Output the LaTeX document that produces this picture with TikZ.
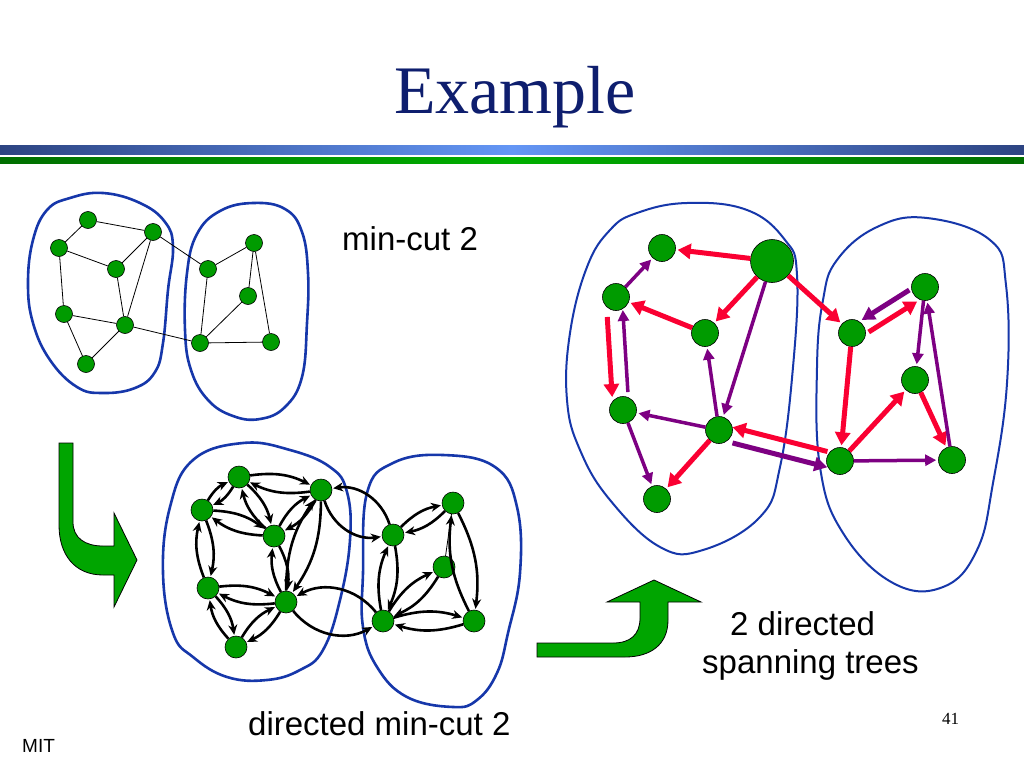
\documentclass[tikz,border=0pt]{standalone}
\usepackage{fontspec}
\setmainfont{Liberation Serif}
\newfontfamily\arial{Liberation Sans}
\usetikzlibrary{arrows.meta,calc}
\definecolor{nodegreen}{RGB}{0,155,0}
\definecolor{arrowgreen}{RGB}{0,165,0}
\definecolor{blobblue}{RGB}{22,55,170}
\definecolor{titleblue}{RGB}{14,30,110}
\definecolor{bardark}{RGB}{45,68,130}
\definecolor{barlight}{RGB}{100,150,245}
\definecolor{gbardark}{RGB}{0,110,0}
\definecolor{gbarlight}{RGB}{0,175,0}
\definecolor{tred}{RGB}{250,0,50}
\definecolor{tpurple}{RGB}{125,0,130}

\begin{document}
\begin{tikzpicture}[x=1pt, y=-1pt,
  vert/.style={circle, draw=black, fill=nodegreen, line width=0.6pt, inner sep=0pt, minimum size=17pt},
  dvert/.style={vert, minimum size=22pt},
  tvert/.style={vert, minimum size=27pt},
  blob/.style={draw=blobblue, line width=2.6pt},
  thinblob/.style={draw=blobblue, line width=2pt},
  edge/.style={draw=black, line width=0.8pt},
  darc/.style={draw=black, line width=2.6pt, -{Stealth[length=10pt,width=9pt]}, shorten >=1pt},
  redarr/.style={draw=tred, line width=5pt, -{Triangle[length=13pt,width=15pt]}, shorten >=2pt},
  purparr/.style={draw=tpurple, line width=3.5pt, -{Triangle[length=11pt,width=11pt]}, shorten >=2pt},
  bigarrow/.style={fill=arrowgreen, draw=black, line width=0.8pt},
  lbl/.style={font=\arial\fontsize{33}{38}\selectfont, inner sep=0pt}
]
\useasboundingbox (0,0) rectangle (1024,768);
\fill[white] (0,0) rectangle (1024,768);

% header
\node[font=\fontsize{68}{80}\selectfont, text=titleblue, inner sep=0pt, anchor=base] (title) at (515,113) {Example};
\shade[left color=bardark, right color=bardark, middle color=barlight] (0,145) rectangle (1024,154);
\shade[left color=gbardark, right color=gbardark, middle color=gbarlight] (0,157) rectangle (1024,163);

% undirected graph
\draw[blob] plot[smooth cycle, tension=0.7] coordinates {(70,198) (103,193) (140,203) (165,222) (173,247) (168,290) (163,343) (155,372) (135,388) (103,393) (77,387) (50,360) (33,323) (28,283) (33,240) (47,210)};
\draw[blob] plot[smooth cycle, tension=0.7] coordinates {(220,211) (253,203) (285,209) (302,232) (308,273) (307,323) (302,377) (285,407) (260,419) (233,416) (208,400) (191,370) (185,330) (187,273) (197,234)};

\node[vert] (a1) at (88,220) {};
\node[vert] (a2) at (59,248) {};
\node[vert] (a3) at (153,232) {};
\node[vert] (a4) at (116,269) {};
\node[vert] (a5) at (64,314) {};
\node[vert] (a6) at (125,325) {};
\node[vert] (a7) at (86,364) {};
\node[vert] (b1) at (208,269) {};
\node[vert] (b2) at (254,243) {};
\node[vert] (b3) at (248,296) {};
\node[vert] (b4) at (200,343) {};
\node[vert] (b5) at (271,342) {};

\foreach \u/\v in {a1/a3, a1/a2, a2/a4, a2/a5, a4/a3, a3/a6, a4/a6, a5/a6, a5/a7, a7/a6,
                   a3/b1, a6/b4, b1/b2, b1/b4, b2/b3, b2/b5, b3/b4, b4/b5}
  \draw[edge] (\u) -- (\v);

\node[lbl, anchor=base west] (cutlbl) at (342,250) {min-cut 2};

% first green arrow
\draw[bigarrow] (59,443) -- (73,443) -- (73,522) .. controls (73,538) and (85,546) .. (103,546)
  -- (114,546) -- (114,513) -- (137,560) -- (114,607) -- (114,575) -- (103,575)
  .. controls (75,575) and (59,555) .. (59,525) -- cycle;

% directed graph
\draw[blob] plot[smooth cycle, tension=0.7] coordinates {(243,443) (290,450) (330,467) (347,492) (350,540) (340,600) (323,650) (300,670) (267,680) (227,677) (193,657) (173,633) (163,573) (170,507) (193,460)};
\draw[blob] plot[smooth cycle, tension=0.7] coordinates {(393,463) (443,455) (495,467) (517,507) (520,573) (508,633) (497,673) (477,700) (453,707) (407,697) (377,667) (363,627) (363,573) (367,493)};

\node[dvert] (c1) at (239,477) {};
\node[dvert] (c2) at (202,510) {};
\node[dvert] (c3) at (321,490) {};
\node[dvert] (c4) at (274,536) {};
\node[dvert] (c5) at (208,588) {};
\node[dvert] (c6) at (286,602) {};
\node[dvert] (c7) at (236,647) {};
\node[dvert] (d1) at (393,535) {};
\node[dvert] (d2) at (453,503) {};
\node[dvert] (d3) at (444,567) {};
\node[dvert] (d4) at (383,621) {};
\node[dvert] (d5) at (474,621) {};

\foreach \u/\v in {c1/c2, c1/c3, c1/c4, c2/c4, c2/c5, c3/c4, c3/c6, c4/c6, c5/c6, c5/c7, c7/c6,
                   d1/d2, d1/d4, d2/d5, d3/d4, d4/d5} {
  \draw[darc] (\u) to[bend left=17] (\v);
  \draw[darc] (\v) to[bend left=17] (\u);
}
\draw[darc] (c3) to[bend right=40] (d1);
\draw[darc] (d1) to[bend right=40] (c3);
\draw[darc] (c6) to[bend right=40] (d4);
\draw[darc] (d4) to[bend right=40] (c6);
\draw[edge] (d2) -- (d3);

\node[lbl, anchor=base west] (dcutlbl) at (248,735) {directed min-cut 2};

% second green arrow
\draw[bigarrow] (537,643) -- (613,643) .. controls (630,643) and (640,635) .. (640,618)
  -- (640,602) -- (607,602) -- (654,580) -- (701,602) -- (668,602) -- (668,620)
  .. controls (668,645) and (650,657) .. (625,657) -- (537,657) -- cycle;

% spanning trees
\draw[thinblob] plot[smooth cycle, tension=0.7] coordinates {(637,213) (687,203) (747,210) (785,240) (797,275) (793,367) (780,467) (760,517) (703,550) (660,547) (610,500) (580,450) (567,400) (570,333) (587,267) (610,230)};
\draw[thinblob] plot[smooth cycle, tension=0.7] coordinates {(837,260) (877,227) (927,218) (990,240) (1006,285) (1007,383) (993,483) (977,550) (943,587) (893,583) (843,533) (820,467) (817,367) (823,300)};

\node[tvert] (e1) at (662,248) {};
\node[vert, minimum size=43pt] (e2) at (772,261) {};
\node[tvert] (e3) at (616,297) {};
\node[tvert] (e4) at (705,333) {};
\node[tvert] (e5) at (623,410) {};
\node[tvert] (e6) at (719,430) {};
\node[tvert] (e7) at (657,499) {};
\node[tvert] (f1) at (852,333) {};
\node[tvert] (f2) at (925,287) {};
\node[tvert] (f3) at (915,380) {};
\node[tvert] (f4) at (840,461) {};
\node[tvert] (f5) at (952,460) {};

\foreach \u/\v in {e2/e1, e2/e4, e4/e3, e2/f1, e6/e7, f1/f4, f4/f3, f3/f5}
  \draw[redarr] (\u) -- (\v);
\foreach \u/\v in {e3/e1, e2/e6, e6/e4, e6/e5, e5/e7, f2/f3, f4/f5, f5/f2}
  \draw[purparr] (\u) -- (\v);

\draw[redarr, shorten <=20pt, shorten >=13pt] ([xshift=-10pt]e3.center) -- ([xshift=-10pt]e5.center);
\draw[purparr, shorten <=18pt, shorten >=13pt] ([xshift=6pt]e5.center) -- ([xshift=6pt]e3.center);
\draw[redarr, shorten <=15pt, shorten >=14pt] ([shift={(4,7)}]f1.center) -- ([shift={(4,7)}]f2.center);
\draw[purparr, line width=5pt, -{Triangle[length=13pt,width=14pt]}, shorten <=15pt, shorten >=15pt] ([shift={(-3,-5)}]f2.center) -- ([shift={(-3,-5)}]f1.center);
\draw[redarr, shorten <=14pt, shorten >=13pt] ([shift={(1,-6)}]f4.center) -- ([shift={(1,-6)}]e6.center);
\draw[purparr, line width=5pt, -{Triangle[length=13pt,width=14pt]}, shorten <=16pt, shorten >=11pt] ([shift={(-2,9)}]e6.center) -- ([shift={(-2,9)}]f4.center);

\node[lbl, anchor=base west] (treelbl1) at (730,635) {2 directed};
\node[lbl, anchor=base west] (treelbl2) at (702,673) {spanning trees};

% footer
\node[font=\fontsize{17}{20}\selectfont, inner sep=0pt, anchor=base west] (pagenum) at (942,724) {41};
\node[font=\arial\fontsize{19}{22}\selectfont, inner sep=0pt, anchor=base west] (mit) at (22,752) {MIT};
\end{tikzpicture}
\end{document}
